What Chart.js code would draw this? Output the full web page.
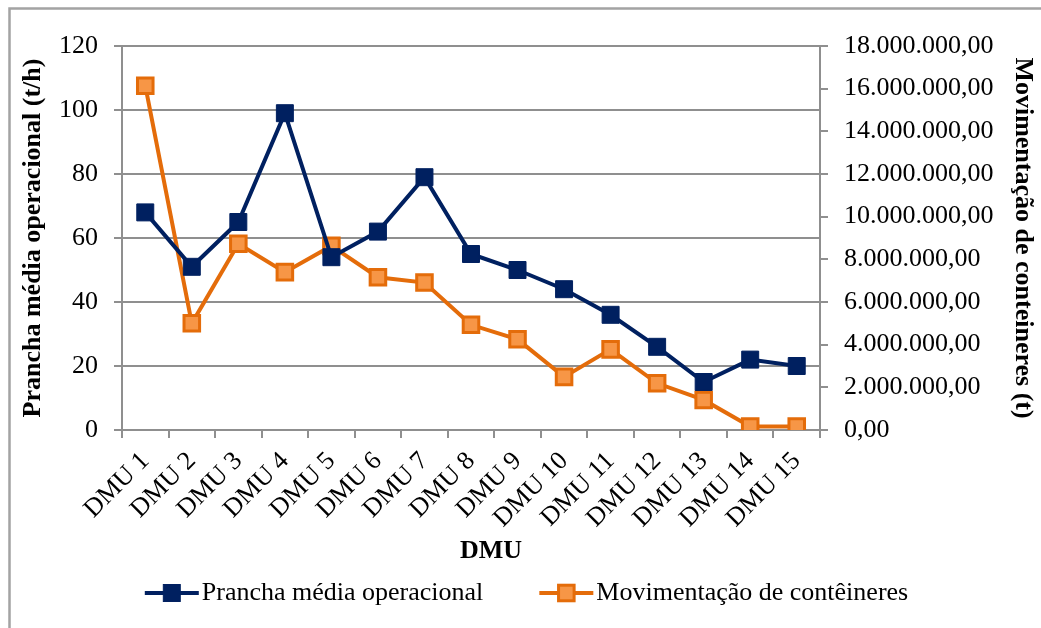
<!DOCTYPE html>
<html>
<head>
<meta charset="utf-8">
<script src="https://cdn.jsdelivr.net/npm/chart.js@4/dist/chart.umd.min.js"></script>
<style>
  html, body { margin: 0; padding: 0; background: #fff; }
  #wrap { width: 1041px; height: 628px; }
</style>
</head>
<body>
<div id="wrap"><canvas id="chart" width="1041" height="628"></canvas></div>
<script>
// Data
const dmuLabels = ['DMU 1', 'DMU 2', 'DMU 3', 'DMU 4', 'DMU 5', 'DMU 6', 'DMU 7', 'DMU 8',
  'DMU 9', 'DMU 10', 'DMU 11', 'DMU 12', 'DMU 13', 'DMU 14', 'DMU 15'];
const pranchaMedia = [68, 51, 65, 99, 54, 62, 79, 55, 50, 44, 36, 26, 15, 22, 20];
const movimentacao = [16140000, 5000000, 8730000, 7400000, 8630000, 7160000, 6910000, 4930000,
  4250000, 2490000, 3780000, 2190000, 1410000, 160000, 160000];
const leftTicks = [0, 20, 40, 60, 80, 100, 120];
const rightTicks = [0, 2000000, 4000000, 6000000, 8000000, 10000000, 12000000, 14000000, 16000000, 18000000];

const FONT = 'Liberation Serif, Times New Roman, serif';
const GRID = '#8f8f8f';
const BLUE = '#002060';
const ORANGE = '#E46C0A';
const ORANGE_FILL = '#F79646';

// Format like 18.000.000,00
function formatBR(v) {
  const s = Math.round(v).toString().replace(/\B(?=(\d{3})+(?!\d))/g, '.');
  return s + ',00';
}

// Grey frame around the chart
const framePlugin = {
  id: 'frame',
  beforeDraw(chart) {
    const ctx = chart.ctx;
    ctx.save();
    ctx.fillStyle = '#fff';
    ctx.fillRect(0, 0, chart.width, chart.height);
    ctx.strokeStyle = '#a3a3a3';
    ctx.lineWidth = 2.5;
    ctx.strokeRect(9.5, 8.5, chart.width + 20, chart.height + 20);
    ctx.restore();
  }
};

// X axis title (sits a bit right of the plot centre in the original) and
// legend with line + square marker, like the spreadsheet one
const lineLegend = {
  id: 'lineLegend',
  afterDraw(chart) {
    const ctx = chart.ctx;
    const sets = chart.data.datasets;
    ctx.save();
    ctx.fillStyle = '#000';
    ctx.textBaseline = 'middle';
    ctx.textAlign = 'center';
    ctx.font = 'bold 26px ' + FONT;
    ctx.fillText('DMU', 491, 551);

    const y = 593;
    const lineLen = 54, gap = 3, between = 56;
    ctx.font = '26px ' + FONT;
    ctx.textAlign = 'left';
    const widths = sets.map(ds => ctx.measureText(ds.label).width);
    let total = 0;
    widths.forEach((w, i) => { total += lineLen + gap + w + (i ? between : 0); });
    let x = 526.5 - total / 2;
    sets.forEach((ds, i) => {
      ctx.strokeStyle = ds.borderColor;
      ctx.lineWidth = 4;
      ctx.beginPath();
      ctx.moveTo(x, y);
      ctx.lineTo(x + lineLen, y);
      ctx.stroke();
      const cx = x + lineLen / 2;
      ctx.fillStyle = ds.pointBackgroundColor;
      ctx.strokeStyle = ds.pointBorderColor;
      ctx.lineWidth = ds.pointBorderWidth;
      const side = ds.pointRadius * Math.SQRT2;
      ctx.fillRect(cx - side / 2, y - side / 2, side, side);
      ctx.strokeRect(cx - side / 2, y - side / 2, side, side);
      ctx.fillStyle = '#000';
      ctx.fillText(ds.label, x + lineLen + gap, y);
      x += lineLen + gap + widths[i] + between;
    });
    ctx.restore();
  }
};

new Chart(document.getElementById('chart'), {
  type: 'line',
  data: {
    labels: dmuLabels,
    datasets: [
      {
        label: 'Prancha média operacional',
        data: pranchaMedia,
        yAxisID: 'y',
        borderColor: BLUE,
        borderWidth: 4,
        pointStyle: 'rect',
        pointRadius: 12,
        pointBackgroundColor: BLUE,
        pointBorderColor: BLUE,
        pointBorderWidth: 1,
        tension: 0
      },
      {
        label: 'Movimentação de contêineres',
        data: movimentacao,
        yAxisID: 'y1',
        borderColor: ORANGE,
        borderWidth: 4,
        pointStyle: 'rect',
        pointRadius: 11,
        pointBackgroundColor: ORANGE_FILL,
        pointBorderColor: ORANGE,
        pointBorderWidth: 3,
        tension: 0
      }
    ]
  },
  options: {
    responsive: false,
    animation: false,
    layout: { padding: { top: 46, left: 0, right: 0, bottom: 58 } },
    plugins: {
      legend: { display: false },
      tooltip: { enabled: false }
    },
    scales: {
      x: {
        offset: true,
        grid: { offset: true, drawOnChartArea: false, drawTicks: true, tickLength: 8, color: GRID, lineWidth: 2 },
        border: { color: GRID, width: 2 },
        ticks: {
          color: '#000',
          font: { family: FONT, size: 26 },
          minRotation: 45,
          maxRotation: 45,
          autoSkip: false,
          padding: 8
        },
        afterFit(scale) { scale.height = 140; }
      },
      y: {
        position: 'left',
        min: 0,
        max: 120,
        afterBuildTicks(scale) { scale.ticks = leftTicks.map(v => ({ value: v })); },
        grid: { color: GRID, lineWidth: 2, tickLength: 8 },
        border: { color: GRID, width: 2 },
        ticks: {
          color: '#000',
          font: { family: FONT, size: 26 },
          padding: 16
        },
        title: {
          display: true,
          text: 'Prancha média operacional (t/h)',
          color: '#000',
          font: { family: FONT, size: 26, weight: 'bold' },
          padding: { top: 18, bottom: 0 }
        },
        afterFit(scale) { scale.width = 122; }
      },
      y1: {
        position: 'right',
        min: 0,
        max: 18000000,
        afterBuildTicks(scale) { scale.ticks = rightTicks.map(v => ({ value: v })); },
        grid: { drawOnChartArea: false, color: GRID, lineWidth: 2, tickLength: 8 },
        border: { color: GRID, width: 2 },
        ticks: {
          color: '#000',
          font: { family: FONT, size: 26 },
          padding: 16,
          callback: v => formatBR(v)
        },
        title: {
          display: true,
          text: 'Movimentação de conteineres (t)',
          color: '#000',
          font: { family: FONT, size: 26, weight: 'bold' },
          padding: { top: 3, bottom: 0 }
        },
        afterFit(scale) { scale.width = 221; }
      }
    }
  },
  plugins: [framePlugin, lineLegend]
});
</script>
</body>
</html>
